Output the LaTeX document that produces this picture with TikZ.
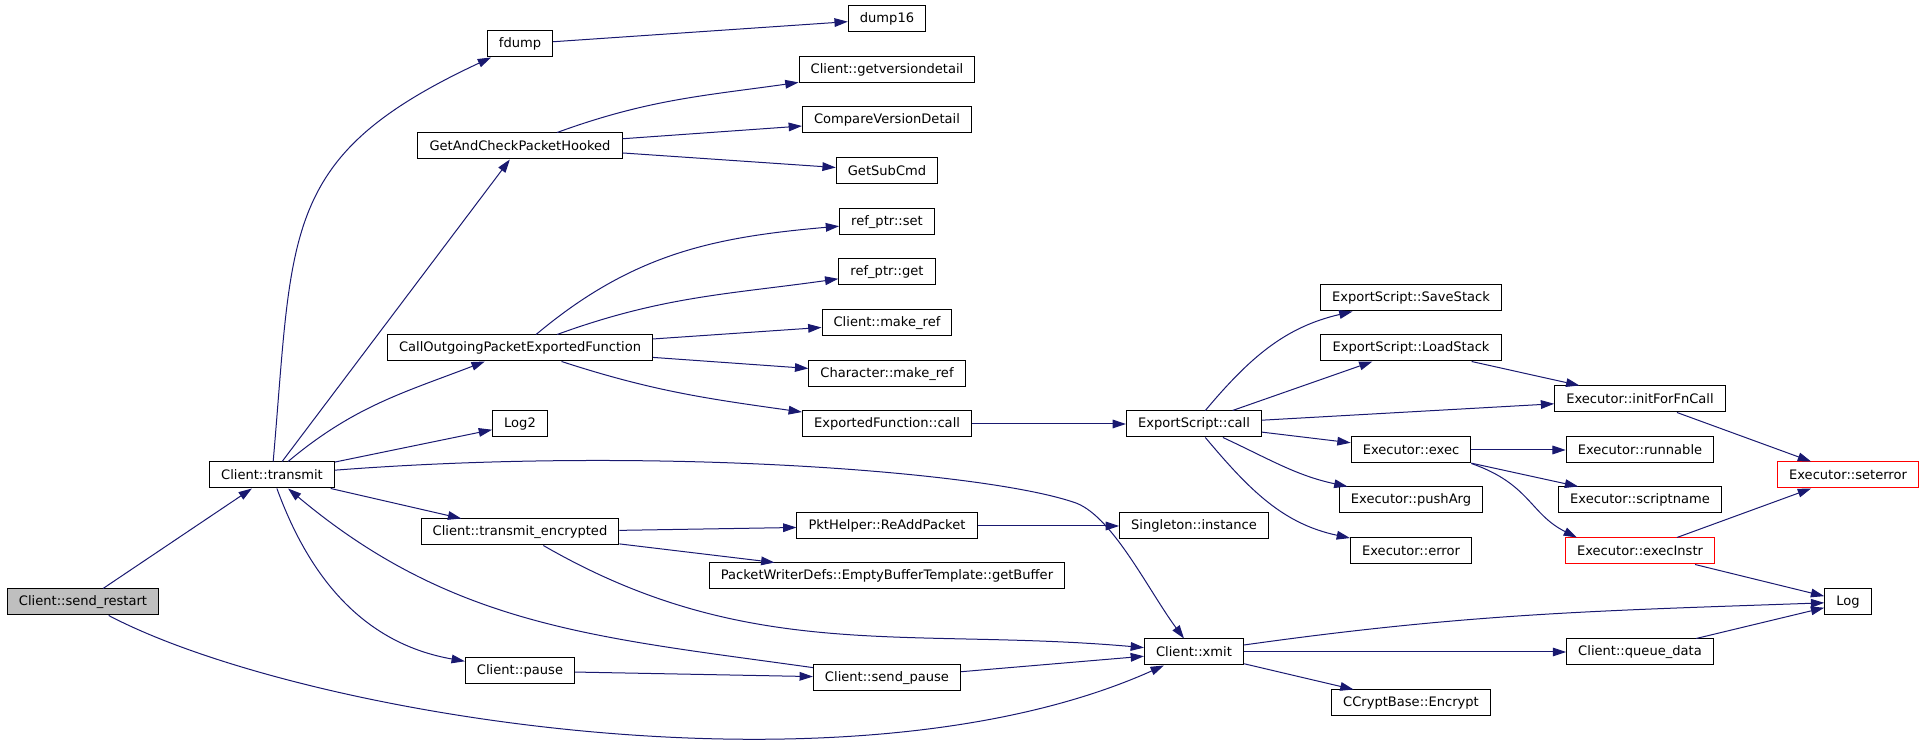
\documentclass[tikz,border=0pt]{standalone}
\usepackage{fontspec}
\setmainfont{DejaVu Sans}
\usetikzlibrary{arrows.meta}
\definecolor{edgeblue}{RGB}{25,25,112}
\tikzset{
  fn/.style={draw, line width=0.75pt, minimum height=19.5pt, inner xsep=8.7pt, inner ysep=0pt, font=\fontsize{9.8}{12}\selectfont},
  fnroot/.style={fn, fill=black!25},
  fnerr/.style={fn, draw=red},
  call/.style={draw=edgeblue, line width=0.75pt, -{Triangle[length=10pt,width=6.5pt]}}
}
\begin{document}
\begin{tikzpicture}[x=0.75pt, y=0.75pt]
	\useasboundingbox (0,0) rectangle (1925,746);
	% callers
	\node[fnroot] (sendrestart) at (83,144) {Client::send\_restart};
	\node[fn] (transmit) at (272,271) {Client::transmit};
	% rank 2
	\node[fn] (fdump) at (520,702) {fdump};
	\node[fn] (getcheck) at (520,600) {GetAndCheckPacketHooked};
	\node[fn] (callout) at (520,398) {CallOutgoingPacketExportedFunction};
	\node[fn] (logtwo) at (520,322) {Log2};
	\node[fn] (transmitenc) at (520,214) {Client::transmit\_encrypted};
	\node[fn] (pause) at (520,75) {Client::pause};
	% rank 3
	\node[fn] (dumpsixteen) at (887,727) {dump16};
	\node[fn] (getversion) at (887,676) {Client::getversiondetail};
	\node[fn] (compareversion) at (887,626) {CompareVersionDetail};
	\node[fn] (getsubcmd) at (887,575) {GetSubCmd};
	\node[fn] (refset) at (887,524) {ref\_ptr::set};
	\node[fn] (refget) at (887,474) {ref\_ptr::get};
	\node[fn] (clientmakeref) at (887,423) {Client::make\_ref};
	\node[fn] (charmakeref) at (887,372) {Character::make\_ref};
	\node[fn] (exportedcall) at (887,322) {ExportedFunction::call};
	\node[fn] (readdpacket) at (887,220) {PktHelper::ReAddPacket};
	\node[fn] (getbuffer) at (887,170) {PacketWriterDefs::EmptyBufferTemplate::getBuffer};
	\node[fn] (sendpause) at (887,68) {Client::send\_pause};
	% rank 4
	\node[fn] (scriptcall) at (1194,322) {ExportScript::call};
	\node[fn] (singleton) at (1194,220) {Singleton::instance};
	\node[fn] (xmit) at (1194,94) {Client::xmit};
	% rank 5
	\node[fn] (savestack) at (1411,448) {ExportScript::SaveStack};
	\node[fn] (loadstack) at (1411,398) {ExportScript::LoadStack};
	\node[fn] (exec) at (1411,296) {Executor::exec};
	\node[fn] (pusharg) at (1411,246) {Executor::pushArg};
	\node[fn] (error) at (1411,195) {Executor::error};
	\node[fn] (encrypt) at (1411,43) {CCryptBase::Encrypt};
	% rank 6
	\node[fn] (initcall) at (1640,347) {Executor::initForFnCall};
	\node[fn] (runnable) at (1640,296) {Executor::runnable};
	\node[fn] (scriptname) at (1640,246) {Executor::scriptname};
	\node[fnerr] (execinstr) at (1640,195) {Executor::execInstr};
	\node[fn] (queuedata) at (1640,94) {Client::queue\_data};
	% rank 7
	\node[fnerr] (seterror) at (1848,271) {Executor::seterror};
	\node[fn] (log) at (1848,144) {Log};

	% send_restart
	\draw[call] (sendrestart) -- (transmit);
	\draw[call] (sendrestart) .. controls (300,30) and (850,-60) .. (xmit);
	% transmit
	\draw[call] (transmit) to[out=85, in=205, looseness=1.3] (fdump);
	\draw[call] (transmit) -- (getcheck);
	\draw[call] (transmit) to[out=40, in=201] (callout);
	\draw[call] (transmit) -- (logtwo);
	\draw[call] (transmit) .. controls (650,300) and (980,275) .. (1073,244) .. controls (1111,233) and (1148,156) .. (xmit);
	\draw[call] (transmit) -- (transmitenc);
	\draw[call] (transmit) to[out=-70, in=170] (pause);
	% fdump, GetAndCheckPacketHooked
	\draw[call] (fdump) -- (dumpsixteen);
	\draw[call] (getcheck) to[out=20, in=188] (getversion);
	\draw[call] (getcheck) -- (compareversion);
	\draw[call] (getcheck) -- (getsubcmd);
	% CallOutgoingPacketExportedFunction
	\draw[call] (callout) to[out=40, in=185] (refset);
	\draw[call] (callout) to[out=20, in=188] (refget);
	\draw[call] (callout) -- (clientmakeref);
	\draw[call] (callout) -- (charmakeref);
	\draw[call] (callout) to[out=-18, in=172] (exportedcall);
	\draw[call] (exportedcall) -- (scriptcall);
	% transmit_encrypted
	\draw[call] (transmitenc) -- (readdpacket);
	\draw[call] (transmitenc) -- (getbuffer);
	\draw[call] (transmitenc) to[out=-30, in=175] (xmit);
	\draw[call] (readdpacket) -- (singleton);
	% pause
	\draw[call] (pause) -- (sendpause);
	\draw[call] (sendpause) to[out=172, in=-40] (transmit);
	\draw[call] (sendpause) -- (xmit);
	% ExportScript::call
	\draw[call] (scriptcall) to[out=50, in=193] (savestack);
	\draw[call] (scriptcall) -- (loadstack);
	\draw[call] (scriptcall) -- (initcall);
	\draw[call] (scriptcall) -- (exec);
	\draw[call] (scriptcall) to[out=-25, in=168] (pusharg);
	\draw[call] (scriptcall) to[out=-50, in=168] (error);
	\draw[call] (loadstack) -- (initcall);
	% Executor
	\draw[call] (initcall) -- (seterror);
	\draw[call] (exec) -- (runnable);
	\draw[call] (exec) -- (scriptname);
	\draw[call] (exec.south east) .. controls (1530,262) and (1530,232) .. ([xshift=9pt]execinstr.north west);
	\draw[call] (execinstr) -- (seterror);
	\draw[call] (execinstr) -- (log);
	% xmit
	\draw[call] (xmit) to[out=8, in=182] (log);
	\draw[call] (xmit) -- (queuedata);
	\draw[call] (xmit) -- (encrypt);
	\draw[call] (queuedata) -- (log);
\end{tikzpicture}
\end{document}
